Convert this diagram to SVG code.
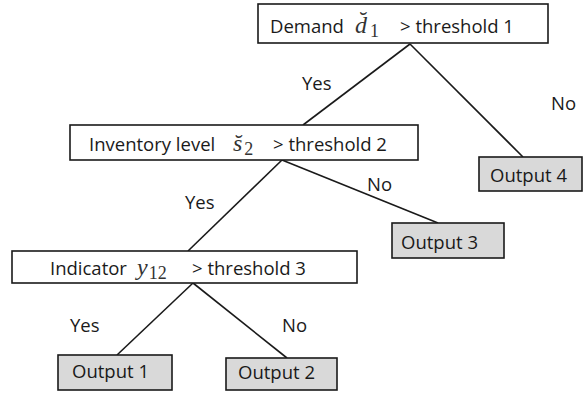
<svg xmlns="http://www.w3.org/2000/svg" width="583" height="394" viewBox="0 0 583 394">
  <style>
    .cond { fill: #ffffff; stroke: #1a1a1a; stroke-width: 1.6; }
    .out { fill: #d9d9d9; stroke: #1a1a1a; stroke-width: 1.6; }
    .lbl { font-family: "Open Sans", "Liberation Sans", sans-serif; font-size: 18.5px; fill: #1a1a1a; }
    .math { font-family: "Liberation Serif", "DejaVu Serif", serif; font-style: italic; font-size: 24px; fill: #333333; }
    .sub { font-style: normal; font-size: 18px; }
    .edge { stroke: #1a1a1a; stroke-width: 1.6; fill: none; }
  </style>
  <rect width="583" height="394" fill="#ffffff"/>

  <!-- connectors -->
  <g id="connectors">
    <path class="edge" d="M410,44 L303,125"/>
    <path class="edge" d="M410,44 L523,157"/>
    <path class="edge" d="M282,160 L188,251"/>
    <path class="edge" d="M282,160 L438,223"/>
    <path class="edge" d="M193,283 L117,355"/>
    <path class="edge" d="M193,283 L287,358"/>
    <text class="lbl" x="302" y="90">Yes</text>
    <text class="lbl" x="551" y="110">No</text>
    <text class="lbl" x="185" y="209">Yes</text>
    <text class="lbl" x="367" y="191">No</text>
    <text class="lbl" x="70" y="332">Yes</text>
    <text class="lbl" x="282" y="332">No</text>
  </g>

  <!-- decision: demand -->
  <g id="node-demand">
    <rect class="cond" x="258" y="4" width="290" height="39"/>
    <text class="lbl" x="270" y="33">Demand</text>
    <text class="math" x="355" y="33">d&#x306;<tspan class="sub" dx="3" dy="4">1</tspan></text>
    <text class="lbl" x="400" y="33">&gt; threshold 1</text>
  </g>

  <!-- decision: inventory level -->
  <g id="node-inventory">
    <rect class="cond" x="70" y="125" width="348" height="35"/>
    <text class="lbl" x="89" y="151">Inventory level</text>
    <text class="math" x="233" y="151">s&#x306;<tspan class="sub" dx="2" dy="4">2</tspan></text>
    <text class="lbl" x="273" y="151">&gt; threshold 2</text>
  </g>

  <!-- decision: indicator -->
  <g id="node-indicator">
    <rect class="cond" x="12" y="251" width="345" height="32"/>
    <text class="lbl" x="50" y="275">Indicator</text>
    <text class="math" x="137" y="275">y<tspan class="sub" dx="1" dy="4">12</tspan></text>
    <text class="lbl" x="192" y="275">&gt; threshold 3</text>
  </g>

  <!-- leaves -->
  <g id="node-output1">
    <rect class="out" x="58" y="355" width="114" height="35"/>
    <text class="lbl" x="72" y="378">Output 1</text>
  </g>
  <g id="node-output2">
    <rect class="out" x="226" y="358" width="111" height="32"/>
    <text class="lbl" x="238" y="379">Output 2</text>
  </g>
  <g id="node-output3">
    <rect class="out" x="392" y="223" width="112" height="35"/>
    <text class="lbl" x="401" y="249">Output 3</text>
  </g>
  <g id="node-output4">
    <rect class="out" x="479" y="157" width="103" height="34"/>
    <text class="lbl" x="490" y="182">Output 4</text>
  </g>
</svg>
